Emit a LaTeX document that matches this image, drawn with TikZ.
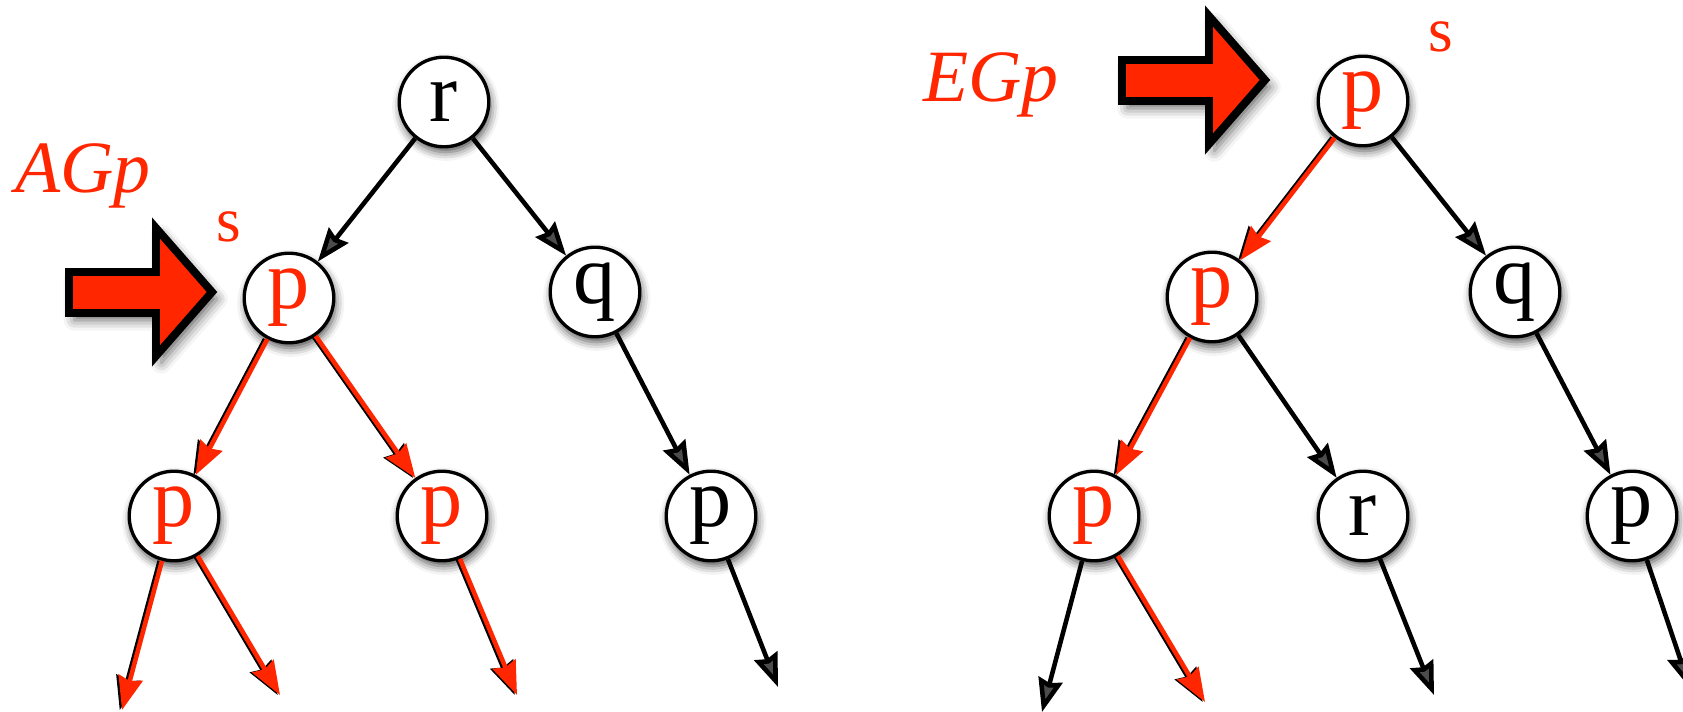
\documentclass[tikz,border=0pt]{standalone}
\usepackage{fontspec}
\setmainfont{Liberation Serif}
\usetikzlibrary{arrows.meta,shadows.blur}
\definecolor{hot}{RGB}{255,38,0}

\begin{document}
\begin{tikzpicture}[x=0.02cm,y=-0.02cm,
  state/.style={circle,draw,line width=1.9pt,fill=white,minimum size=51pt,inner sep=0pt,
    font=\fontsize{48}{48}\selectfont,
    blur shadow={shadow xshift=1pt,shadow yshift=-3pt,shadow blur radius=5pt,shadow opacity=70}},
  hotstate/.style={state,text=hot},
  edge/.style={line width=2.6pt,-{Stealth[length=19pt,width=14pt,inset=2pt]}},
  hotedge/.style={edge,draw=hot,fill=hot},
  hotshade/.style={edge,black,transform canvas={xshift=-1.3pt}},
  formula/.style={text=hot,anchor=base,font=\fontsize{42}{42}\selectfont\itshape},
  startmark/.style={text=hot,anchor=base,font=\fontsize{36}{36}\selectfont},
  bigarrow/.style={fill=hot,draw=black,line width=4.5pt,line join=miter,
    blur shadow={shadow xshift=3pt,shadow yshift=-4pt,shadow blur radius=6pt,shadow opacity=60}}]
\useasboundingbox (0,0) rectangle (1683,712);

% AG p
\node[formula] (agp) at (83,193) {AGp};
\node[startmark] (sa) at (229,242) {s};
\draw[bigarrow] (69,272) -- (156,272) -- (156,228) -- (212,292) -- (156,356) -- (156,313) -- (69,313) -- cycle;

\node[state] (r1) at (444,102) {r};
\node[hotstate] (s1) at (289,298) {p};
\node[state] (q1) at (595,292) {q};
\node[hotstate] (pa1) at (174,516) {p};
\node[hotstate] (pb1) at (442,516) {p};
\node[state] (pc1) at (711,516) {p};
\coordinate (ea1) at (122,710);
\coordinate (eb1) at (280,695);
\coordinate (ec1) at (517,695);
\coordinate (ed1) at (778,687);

% EG p
\node[formula] (egp) at (991,102) {EGp};
\node[startmark] (sb) at (1441,52) {s};
\draw[bigarrow] (1122,60) -- (1209,60) -- (1209,16) -- (1265,80) -- (1209,144) -- (1209,101) -- (1122,101) -- cycle;

\node[hotstate] (s2) at (1363,101) {p};
\node[hotstate] (pa2) at (1212,297) {p};
\node[state] (q2) at (1515,292) {q};
\node[hotstate] (pb2) at (1094,516) {p};
\node[state] (r2) at (1363,516) {r};
\node[state] (pc2) at (1632,516) {p};
\coordinate (ea2) at (1042,712);
\coordinate (eb2) at (1205,702);
\coordinate (ec2) at (1434,695);
\coordinate (ed2) at (1690,688);

% black edges
\foreach \a/\b in {r1/s1,r1/q1,q1/pc1,pc1/ed1,s2/q2,pa2/r2,q2/pc2,pb2/ea2,r2/ec2,pc2/ed2}
  \draw[edge] (\a) -- (\b);

% red edges, each with a dark rim
\foreach \a/\b in {s1/pa1,s1/pb1,pa1/ea1,pa1/eb1,pb1/ec1,s2/pa2,pa2/pb2,pb2/eb2} {
  \draw[hotshade] (\a) -- (\b);
  \draw[hotedge] (\a) -- (\b);
}
\end{tikzpicture}
\end{document}
